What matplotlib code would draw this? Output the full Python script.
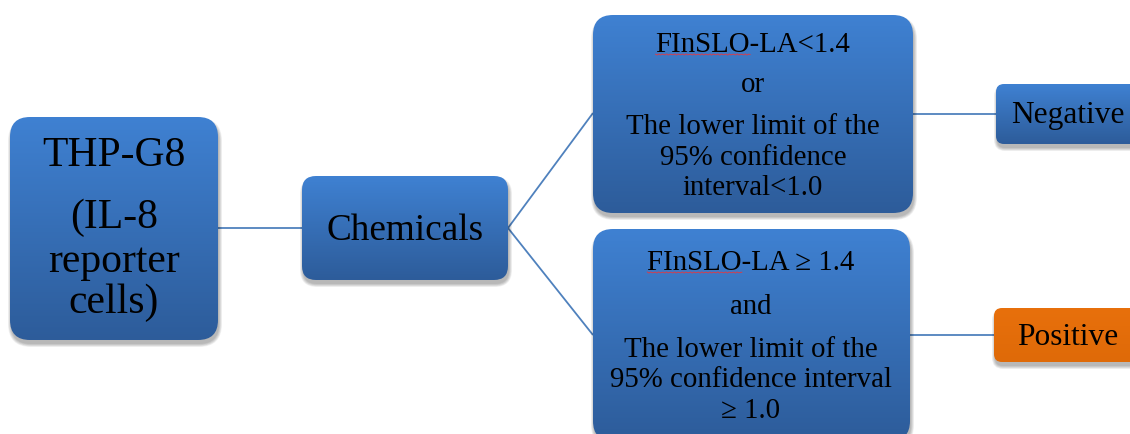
import numpy as np
import matplotlib
matplotlib.use("Agg")
import matplotlib.pyplot as plt
from matplotlib.patches import FancyBboxPatch
from matplotlib.colors import to_rgb

# ---- content ----
root_lines = ["THP-G8", "(IL-8", "reporter", "cells)"]
middle_label = "Chemicals"
neg_condition = ["FInSLO-LA<1.4", "or", "The lower limit of the", "95% confidence", "interval<1.0"]
pos_condition = ["FInSLO-LA \u2265 1.4", "and", "The lower limit of the", "95% confidence interval", "\u2265 1.0"]
outcomes = ["Negative", "Positive"]

W, H = 1130, 434
fig = plt.figure(figsize=(W / 100, H / 100), dpi=100)
ax = fig.add_axes([0, 0, 1, 1])
ax.set_xlim(0, W)
ax.set_ylim(H, 0)
ax.axis("off")

FONT = "Liberation Serif"
LINE = "#4f81bd"
BLUE_TOP = "#3f81d2"
BLUE_BOT = "#2d5c9a"
OR_TOP = "#e8700c"
OR_BOT = "#df6a08"


def shadow(x0, y0, x1, y1, r):
    for k in range(6):
        p = FancyBboxPatch((x0 + 1 - k * 0.6, y0 + 4 - k * 0.6),
                           (x1 - x0) + k * 1.2, (y1 - y0) + k * 1.2,
                           boxstyle=f"round,pad=0,rounding_size={r + k*0.6}",
                           fc="black", ec="none", alpha=0.05, zorder=1)
        ax.add_patch(p)


def box(x0, y0, x1, y1, r, ctop, cbot):
    shadow(x0, y0, x1, y1, r)
    p = FancyBboxPatch((x0, y0), x1 - x0, y1 - y0,
                       boxstyle=f"round,pad=0,rounding_size={r}",
                       fc="none", ec="none", zorder=2)
    ax.add_patch(p)
    t = np.linspace(0, 1, 256)[:, None]
    a = np.array(to_rgb(ctop)); b = np.array(to_rgb(cbot))
    img = (a[None, None, :] * (1 - t[..., None]) + b[None, None, :] * t[..., None])
    im = ax.imshow(img, extent=(x0, x1, y1, y0), origin="upper",
                   aspect="auto", zorder=2, interpolation="bilinear")
    im.set_clip_path(p)


def line(p, q):
    ax.plot([p[0], q[0]], [p[1], q[1]], color=LINE, lw=1.3, zorder=0.5,
            solid_capstyle="butt")


# connectors
line((218, 228), (302, 228))
line((508, 228), (593, 113))
line((508, 228), (593, 335))
line((913, 114), (996, 114))
line((910, 335), (994, 335))

# boxes
box(10, 117, 218, 340, 20, BLUE_TOP, BLUE_BOT)
box(302, 176, 508, 280, 14, BLUE_TOP, BLUE_BOT)
box(593, 15, 913, 213, 20, BLUE_TOP, BLUE_BOT)
box(593, 229, 910, 441, 20, BLUE_TOP, BLUE_BOT)
box(996, 84, 1150, 144, 8, BLUE_TOP, BLUE_BOT)
box(994, 308, 1150, 362, 8, OR_TOP, OR_BOT)


def txt(x, y, s, size):
    return ax.text(x, y, s, ha="center", va="baseline", fontsize=size,
                   family=FONT, color="black", zorder=5)


# root
root_y = [166, 228, 272, 313]
for s, y in zip(root_lines, root_y):
    txt(114, y, s, 30)

txt(405, 240, middle_label, 26.8)

neg_y = [52, 92, 134, 165, 195]
for s, y in zip(neg_condition, neg_y):
    txt(753, y, s, 20.8)

pos_y = [270, 314, 357, 387, 418]
for s, y in zip(pos_condition, pos_y):
    txt(751, y, s, 20.8)

txt(1068, 123, outcomes[0], 22.6)
txt(1068, 345, outcomes[1], 22.6)

# spell-check style underline under "FInSLO"
fig.canvas.draw()
rend = fig.canvas.get_renderer()
inv = ax.transData.inverted()
for s, y, cx in [(neg_condition[0], neg_y[0], 753), (pos_condition[0], pos_y[0], 751)]:
    full = ax.text(cx, y, s, ha="center", va="baseline", fontsize=20.8, family=FONT)
    pre = ax.text(cx, y, "FInSLO", ha="left", va="baseline", fontsize=20.8, family=FONT)
    bf = full.get_window_extent(rend)
    bp = pre.get_window_extent(rend)
    xl = inv.transform((bf.x0, 0))[0]
    wpx = bp.width
    full.remove(); pre.remove()
    xs = np.linspace(xl, xl + wpx, 60)
    ys = y + 2.5 + 0.6 * np.sin(xs * 1.6)
    ax.plot(xs, ys, color="#d04050", lw=0.7, zorder=6)

fig.savefig("out.png", dpi=100)
